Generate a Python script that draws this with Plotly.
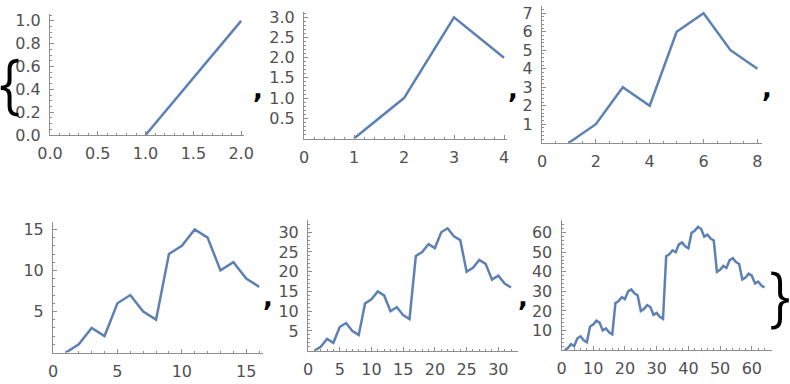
import plotly.graph_objects as go

# ---- data ----
series_1 = [0, 1]
series_2 = [0, 1, 3, 2]
series_3 = [0, 1, 3, 2, 6, 7, 5, 4]
series_4 = [0, 1, 3, 2, 6, 7, 5, 4, 12, 13, 15, 14, 10, 11, 9, 8]
series_5 = [0, 1, 3, 2, 6, 7, 5, 4, 12, 13, 15, 14, 10, 11, 9, 8,
            24, 25, 27, 26, 30, 31, 29, 28, 20, 21, 23, 22, 18, 19, 17, 16]
series_6 = [0, 1, 3, 2, 6, 7, 5, 4, 12, 13, 15, 14, 10, 11, 9, 8,
            24, 25, 27, 26, 30, 31, 29, 28, 20, 21, 23, 22, 18, 19, 17, 16,
            48, 49, 51, 50, 54, 55, 53, 52, 60, 61, 63, 62, 58, 59, 57, 56,
            40, 41, 43, 42, 46, 47, 45, 44, 36, 37, 39, 38, 34, 35, 33, 32]
all_series = [series_1, series_2, series_3, series_4, series_5, series_6]

# tick labels
x_ticks = [[0, 0.5, 1.0, 1.5, 2.0], [0, 1, 2, 3, 4], [0, 2, 4, 6, 8],
           [0, 5, 10, 15], [0, 5, 10, 15, 20, 25, 30],
           [0, 10, 20, 30, 40, 50, 60]]
y_ticks = [[0, 0.2, 0.4, 0.6, 0.8, 1.0], [0.5, 1.0, 1.5, 2.0, 2.5, 3.0],
           [1, 2, 3, 4, 5, 6, 7], [5, 10, 15], [5, 10, 15, 20, 25, 30],
           [10, 20, 30, 40, 50, 60]]
x_fmt = [".1f", "d", "d", "d", "d", "d"]
y_fmt = [".1f", ".1f", "d", "d", "d", "d"]
x_minor = [0.1, 0.2, 0.5, 1, 1, 2]
y_minor = [0.05, 0.1, 0.2, 1, 1, 2]

# ---- layout (pixel boxes of each panel: left, right, top, bottom) ----
W, H = 790, 384
boxes = [(50, 244, 14, 135), (304, 507, 12, 138.5), (542, 762, 6, 142.7),
         (53, 263, 222, 352.5), (308, 518, 220, 350.7), (561.5, 771.5, 220, 350)]
x_max = [2.03, 4.06, 8.17, 16.3, 33.1, 66.2]
y_max = [1.06, 3.13, 7.39, 15.9, 33.1, 66.5]

LINE = "#5E81B5"
AXIS = "#8f8f8f"
TXT = "#505050"
FONT = "DejaVu Sans"

fig = go.Figure()
layout = dict(width=W, height=H, margin=dict(l=0, r=0, t=0, b=0, autoexpand=False),
              paper_bgcolor="white", plot_bgcolor="white", showlegend=False)

for i, ys in enumerate(all_series):
    k = "" if i == 0 else str(i + 1)
    fig.add_trace(go.Scatter(x=list(range(1, len(ys) + 1)), y=ys, mode="lines",
                             line=dict(color=LINE, width=2.5),
                             xaxis="x" + k, yaxis="y" + k, hoverinfo="skip"))
    l, r, t, b = boxes[i]
    common = dict(showline=True, linecolor=AXIS, linewidth=1, showgrid=False,
                  zeroline=False, ticks="inside", ticklen=4, tickwidth=1,
                  tickcolor=AXIS, tickmode="array", automargin=False,
                  tickfont=dict(family=FONT, size=16, color=TXT))
    layout["xaxis" + k] = dict(common, domain=[l / W, r / W], anchor="y" + k,
                               range=[0, x_max[i]], tickvals=x_ticks[i],
                               tickformat=x_fmt[i], ticklabelstandoff=4,
                               minor=dict(ticks="inside", ticklen=2, tickcolor=AXIS,
                                          tickmode="linear", tick0=0, dtick=x_minor[i]))
    layout["yaxis" + k] = dict(common, domain=[1 - b / H, 1 - t / H], anchor="x" + k,
                               range=[0, y_max[i]], tickvals=y_ticks[i],
                               tickformat=y_fmt[i], ticklabelstandoff=5,
                               minor=dict(ticks="inside", ticklen=2, tickcolor=AXIS,
                                          tickmode="linear", tick0=0, dtick=y_minor[i]))

fig.update_layout(**layout)

# punctuation of the list output
marks = [("{", 9, 84, 64), (",", 258, 89, 26), (",", 513, 89, 26), (",", 767, 88, 26),
         (",", 268, 297, 26), (",", 523, 297, 26), ("}", 780, 297, 64)]
for txt, px, py, sz in marks:
    if txt in "{}":
        f = dict(family="Inter", size=sz, color="black", weight=300)
        t = txt
    else:
        f = dict(family="DejaVu Sans", size=sz, color="black", weight="bold")
        t = txt
    fig.add_annotation(text=t, x=px / W, y=1 - py / H, xref="paper", yref="paper",
                       xanchor="center", yanchor="middle", showarrow=False, font=f)

fig.write_html("out.html", config={"displayModeBar": False},
               post_script="document.body.style.margin='0';"
                           "document.body.style.overflow='hidden';")
